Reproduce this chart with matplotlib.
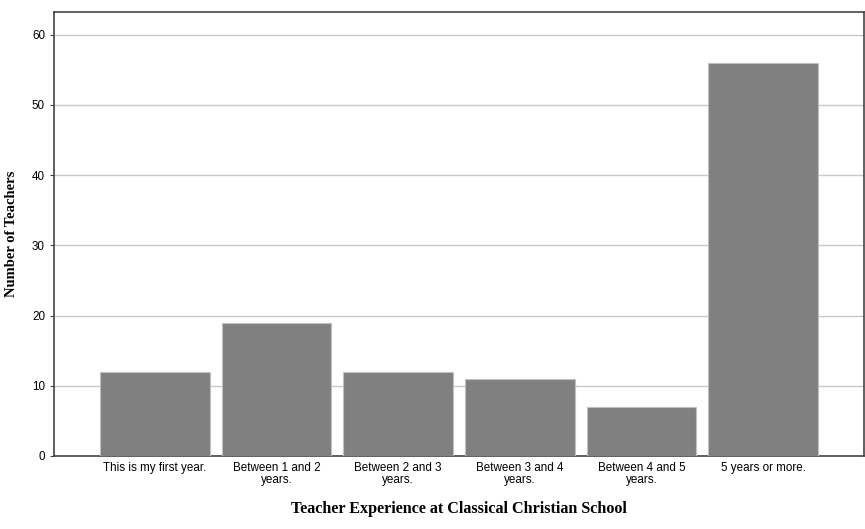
import matplotlib
matplotlib.use("Agg")
import matplotlib.pyplot as plt
import numpy as np

categories = ["This is my first year.", "Between 1 and 2\nyears.", "Between 2 and 3\nyears.",
              "Between 3 and 4\nyears.", "Between 4 and 5\nyears.", "5 years or more."]
teachers = [12, 19, 12, 11, 7, 56]

fig = plt.figure(figsize=(8.65, 5.29), dpi=100)
ax = fig.add_axes([0.0624, 0.138, 0.9364, 0.839])

x = np.arange(len(categories))
ax.bar(x, teachers, width=0.9, color="#808080", edgecolor="#c0c0c0", linewidth=0.8, zorder=3)

ax.set_xlim(-0.83, 5.83)
ax.set_ylim(0, 63.2)
ax.set_yticks(range(0, 61, 10))
ax.yaxis.grid(True, color="#c8c8c8", linewidth=1, zorder=0)

ax.set_xticks(x)
ax.set_xticklabels(categories, fontsize=8.4, family="Liberation Sans", linespacing=1.05)
ax.tick_params(axis="x", length=0, pad=4)
ax.tick_params(axis="y", length=3, labelsize=8.4, color="#444444")
for lbl in ax.get_yticklabels():
    lbl.set_family("Liberation Sans")

for s in ax.spines.values():
    s.set_color("#444444")
    s.set_linewidth(1.2)

ax.set_xlabel("Teacher Experience at Classical Christian School", family="Liberation Serif",
              fontweight="bold", fontsize=11.6, labelpad=11)
ax.set_ylabel("Number of Teachers", family="Liberation Serif", fontweight="bold",
              fontsize=10.5, labelpad=10)

fig.savefig("out.png", dpi=100)
